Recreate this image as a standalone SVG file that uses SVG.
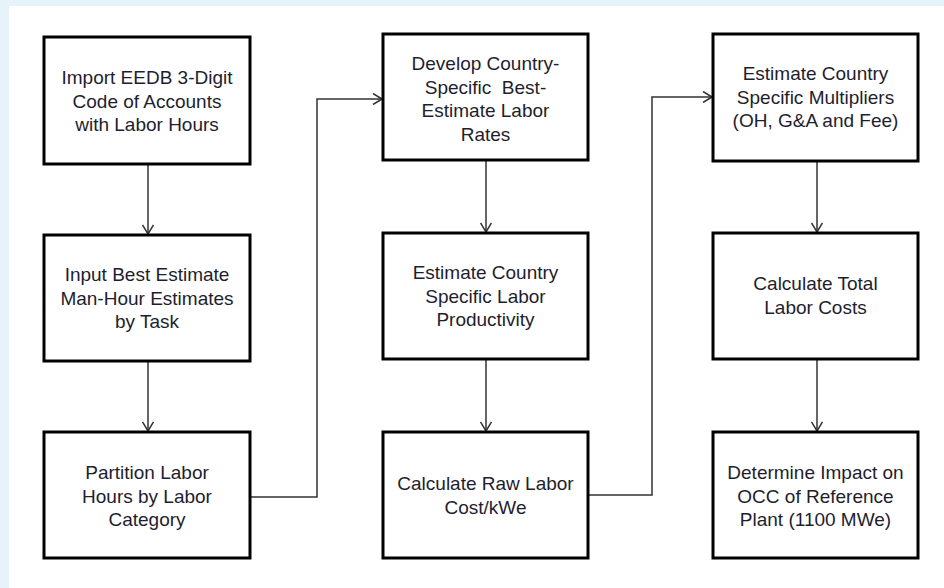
<svg xmlns="http://www.w3.org/2000/svg" width="944" height="588" viewBox="0 0 944 588">
<defs>
<marker id="arr" viewBox="0 0 10 12" refX="10" refY="6" markerWidth="10" markerHeight="12" markerUnits="userSpaceOnUse" orient="auto">
<path d="M1,0.5 L10,6 L1,11.5" fill="none" stroke="#333" stroke-width="1.5"/>
</marker>
<style>
.box{fill:#fff;stroke:#000;stroke-width:3}
.t{font-family:"Liberation Sans",Arial,sans-serif;font-size:19px;fill:#1e1e2e;text-anchor:middle}
.c{fill:none;stroke:#333;stroke-width:1.5}
</style>
</defs>
<rect x="0" y="0" width="944" height="588" fill="#e6f3fb"/>
<rect x="9" y="6" width="935" height="582" fill="#fff"/>
<g id="connectors">
<line class="c" x1="148" y1="164" x2="148" y2="234" marker-end="url(#arr)"/>
<line class="c" x1="148" y1="361" x2="148" y2="431" marker-end="url(#arr)"/>
<line class="c" x1="486" y1="160" x2="486" y2="232" marker-end="url(#arr)"/>
<line class="c" x1="486" y1="359" x2="486" y2="431" marker-end="url(#arr)"/>
<line class="c" x1="817" y1="161" x2="817" y2="232" marker-end="url(#arr)"/>
<line class="c" x1="817" y1="359" x2="817" y2="431" marker-end="url(#arr)"/>
<polyline class="c" points="250,497 317,497 317,99 382,99" marker-end="url(#arr)"/>
<polyline class="c" points="588,495 652,495 652,97 712,97" marker-end="url(#arr)"/>
</g>
<g id="n1"><rect class="box" x="44" y="37" width="206" height="127"/>
<text class="t" x="147" y="84">Import EEDB 3-Digit</text><text class="t" x="147" y="107.5">Code of Accounts</text><text class="t" x="147" y="131">with Labor Hours</text></g>
<g id="n2"><rect class="box" x="44" y="235" width="206" height="126"/>
<text class="t" x="147" y="281">Input Best Estimate</text><text class="t" x="147" y="304.5">Man-Hour Estimates</text><text class="t" x="147" y="328">by Task</text></g>
<g id="n3"><rect class="box" x="44" y="432" width="206" height="126"/>
<text class="t" x="147" y="479">Partition Labor</text><text class="t" x="147" y="502.5">Hours by Labor</text><text class="t" x="147" y="526">Category</text></g>
<g id="n4"><rect class="box" x="383" y="34" width="205" height="126"/>
<text class="t" x="485.5" y="70">Develop Country-</text><text class="t" x="485.5" y="93.5" xml:space="preserve">Specific  Best-</text><text class="t" x="485.5" y="117">Estimate Labor</text><text class="t" x="485.5" y="140.5">Rates</text></g>
<g id="n5"><rect class="box" x="383" y="233" width="205" height="126"/>
<text class="t" x="485.5" y="279">Estimate Country</text><text class="t" x="485.5" y="302.5">Specific Labor</text><text class="t" x="485.5" y="326">Productivity</text></g>
<g id="n6"><rect class="box" x="383" y="432" width="205" height="126"/>
<text class="t" x="485.5" y="490">Calculate Raw Labor</text><text class="t" x="485.5" y="514">Cost/kWe</text></g>
<g id="n7"><rect class="box" x="713" y="34" width="205" height="127"/>
<text class="t" x="815.5" y="80">Estimate Country</text><text class="t" x="815.5" y="103.5">Specific Multipliers</text><text class="t" x="815.5" y="127">(OH, G&amp;A and Fee)</text></g>
<g id="n8"><rect class="box" x="713" y="233" width="205" height="126"/>
<text class="t" x="815.5" y="290">Calculate Total</text><text class="t" x="815.5" y="314">Labor Costs</text></g>
<g id="n9"><rect class="box" x="713" y="432" width="205" height="126"/>
<text class="t" x="815.5" y="479">Determine Impact on</text><text class="t" x="815.5" y="502.5">OCC of Reference</text><text class="t" x="815.5" y="526">Plant (1100 MWe)</text></g>
</svg>
